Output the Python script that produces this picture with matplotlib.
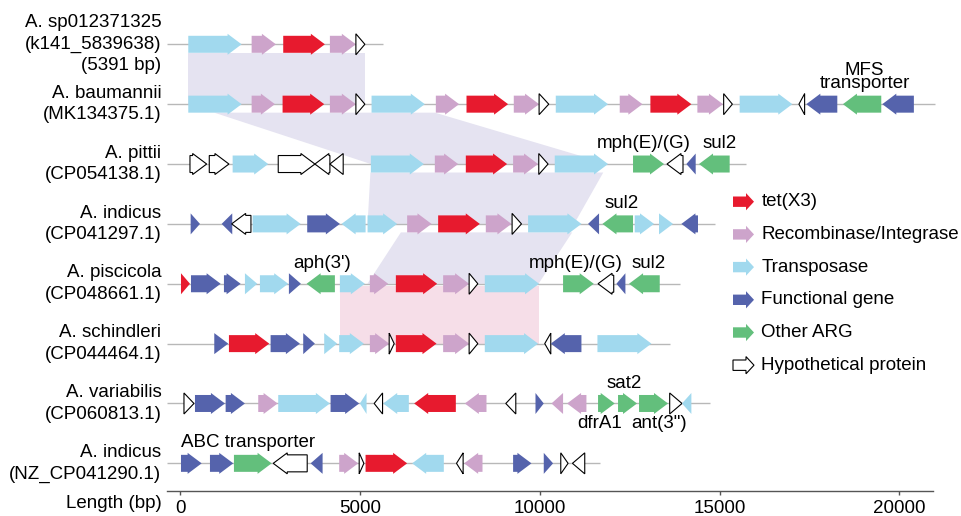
import matplotlib
matplotlib.use('Agg')
import matplotlib.pyplot as plt
from matplotlib.patches import Polygon

plt.rcParams['font.family'] = ['Liberation Sans', 'DejaVu Sans']

# ---------------- data ----------------
row_names = [
    'A. sp012371325\n(k141_5839638)\n(5391 bp)',
    'A. baumannii\n(MK134375.1)',
    'A. pittii\n(CP054138.1)',
    'A. indicus\n(CP041297.1)',
    'A. piscicola\n(CP048661.1)',
    'A. schindleri\n(CP044464.1)',
    'A. variabilis\n(CP060813.1)',
    'A. indicus\n(NZ_CP041290.1)',
]
track_ends = [5621, 20980, 15740, 14859, 13886, 13608, 14740, 11682]

# (start bp, end bp, strand, kind)
genes_sp = [(217, 1700, 1, 'tnp'), (1979, 2655, 1, 'rec'), (2858, 4017, 1, 'tet'),
            (4156, 4879, 1, 'rec'), (4879, 5129, 1, 'hyp')]
genes_baum = [(217, 1700, 1, 'tnp'), (1979, 2627, 1, 'rec'), (2840, 3998, 1, 'tet'),
              (4156, 4879, 1, 'rec'), (4879, 5129, 1, 'hyp'),
              (5315, 6797, 1, 'tnp'), (7103, 7751, 1, 'rec'), (7956, 9113, 1, 'tet'),
              (9271, 9975, 1, 'rec'), (9975, 10244, 1, 'hyp'),
              (10439, 11893, 1, 'tnp'), (12218, 12849, 1, 'rec'), (13071, 14211, 1, 'tet'),
              (14378, 15090, 1, 'rec'), (15109, 15351, 1, 'hyp'),
              (15554, 17019, 1, 'tnp'), (17203, 17361, -1, 'hyp'), (17408, 18270, -1, 'fun'),
              (18426, 19493, -1, 'arg'), (19521, 20400, -1, 'fun')]
genes_pitt = [(264, 728, 1, 'hyp'), (801, 1348, 1, 'hyp'), (1451, 2441, 1, 'tnp'),
              (2719, 3739, 1, 'hyp'), (3739, 4156, -1, 'hyp'), (4156, 4526, -1, 'hyp'),
              (5296, 6769, 1, 'tnp'), (7075, 7723, 1, 'rec'), (7937, 9085, 1, 'tet'),
              (9252, 9947, 1, 'rec'), (9966, 10225, 1, 'hyp'), (10411, 11893, 1, 'tnp'),
              (12588, 13450, 1, 'arg'), (13533, 13978, -1, 'hyp'), (14072, 14331, -1, 'fun'),
              (14423, 15276, -1, 'arg')]
genes_ind1 = [(283, 542, 1, 'fun'), (1145, 1440, -1, 'fun'), (1423, 1960, -1, 'hyp'),
              (2007, 3342, 1, 'tnp'), (3525, 4434, 1, 'fun'), (4481, 5149, -1, 'tnp'),
              (5204, 6027, 1, 'tnp'), (6305, 6983, 1, 'rec'), (7167, 8326, 1, 'tet'),
              (8493, 9207, 1, 'rec'), (9224, 9485, 1, 'hyp'), (9669, 11153, 1, 'tnp'),
              (11337, 11643, -1, 'fun'), (11737, 12588, -1, 'arg'), (12635, 13172, 1, 'tnp'),
              (13311, 13700, 1, 'tnp'), (13933, 14395, -1, 'fun')]
genes_pisc = [(14, 264, 1, 'tet'), (292, 1117, 1, 'fun'), (1209, 1673, 1, 'fun'),
              (1793, 2136, 1, 'tnp'), (2210, 2997, 1, 'tnp'), (3016, 3350, 1, 'fun'),
              (3508, 4295, -1, 'arg'), (4434, 5129, 1, 'tnp'), (5268, 5777, 1, 'rec'),
              (5991, 7139, 1, 'tet'), (7306, 8029, 1, 'rec'), (8029, 8271, 1, 'hyp'),
              (8465, 9975, 1, 'tnp'), (10642, 11495, 1, 'arg'), (11615, 12051, -1, 'hyp'),
              (12126, 12376, -1, 'fun'), (12477, 13331, -1, 'arg')]
genes_schi = [(940, 1329, 1, 'fun'), (1348, 2469, 1, 'tet'), (2507, 3322, 1, 'fun'),
              (3414, 3739, 1, 'fun'), (3998, 4359, 1, 'tnp'), (4415, 5101, 1, 'tnp'),
              (5268, 5805, 1, 'rec'), (5805, 5944, 1, 'hyp'), (5991, 7122, 1, 'tet'),
              (7306, 8029, 1, 'rec'), (8029, 8271, 1, 'hyp'), (8465, 9947, 1, 'tnp'),
              (10132, 10300, -1, 'hyp'), (10300, 11153, -1, 'fun'), (11598, 13099, 1, 'tnp')]
genes_vari = [(97, 375, 1, 'hyp'), (403, 1237, 1, 'fun'), (1256, 1793, 1, 'fun'),
              (2163, 2702, 1, 'rec'), (2719, 4156, 1, 'tnp'), (4175, 4971, 1, 'fun'),
              (4990, 5176, -1, 'tnp'), (5388, 5621, -1, 'hyp'), (5638, 6352, -1, 'tnp'),
              (6500, 7659, -1, 'tet'), (7909, 8512, -1, 'rec'), (9049, 9327, -1, 'hyp'),
              (9875, 10105, 1, 'fun'), (10319, 10642, -1, 'rec'), (10753, 11292, -1, 'rec'),
              (11615, 12079, 1, 'arg'), (12171, 12699, 1, 'arg'), (12755, 13561, 1, 'arg'),
              (13608, 13950, 1, 'hyp'), (13950, 14211, -1, 'tnp')]
genes_ind2 = [(14, 589, 1, 'fun'), (820, 1468, 1, 'fun'), (1487, 2535, 1, 'arg'),
              (2580, 3525, -1, 'hyp'), (3620, 3953, -1, 'fun'), (4415, 4943, 1, 'rec'),
              (4971, 5101, 1, 'hyp'), (5148, 6305, 1, 'tet'), (6444, 7325, -1, 'tnp'),
              (7678, 7862, -1, 'hyp'), (7890, 8401, -1, 'rec'), (9252, 9763, 1, 'fun'),
              (10105, 10364, 1, 'fun'), (10578, 10781, 1, 'hyp'), (10903, 11245, -1, 'hyp')]
tracks = [genes_sp, genes_baum, genes_pitt, genes_ind1,
          genes_pisc, genes_schi, genes_vari, genes_ind2]

# (row, centre bp, text, side)
gene_labels = [(1, 19030, 'MFS\ntransporter', 'above'),
               (2, 12885, 'mph(E)/(G)', 'above'), (2, 14998, 'sul2', 'above'),
               (3, 12265, 'sul2', 'above'),
               (4, 3953, "aph(3')", 'above'), (4, 10995, 'mph(E)/(G)', 'above'),
               (4, 13024, 'sul2', 'above'),
               (6, 12338, 'sat2', 'above'), (6, 11662, 'dfrA1', 'below'),
               (6, 13302, 'ant(3")', 'below'),
               (7, 1885, 'ABC transporter', 'above')]

# homologous blocks: (upper row, start, end, lower row, start, end, kind)
links = [(0, 217, 5129, 1, 217, 5129, 'lav'),
         (1, 940, 7080, 2, 5296, 11893, 'lav'),
         (2, 5283, 11760, 3, 5204, 10950, 'lav'),
         (3, 6130, 10895, 4, 5200, 9960, 'lav'),
         (4, 4430, 9960, 5, 4430, 9960, 'pink')]

legend_kinds = ['tet', 'rec', 'tnp', 'fun', 'arg', 'hyp']
legend_labels = ['tet(X3)', 'Recombinase/Integrase', 'Transposase',
                 'Functional gene', 'Other ARG', 'Hypothetical protein']
xticks = [0, 5000, 10000, 15000, 20000]

colors = {'tet': '#e71a2e', 'rec': '#cda4cb', 'tnp': '#a1d9ee',
          'fun': '#5563ac', 'arg': '#63bf7c', 'hyp': 'white',
          'lav': '#e5e3f1', 'pink': '#f6dee8'}

# ---------------- layout ----------------
W, H = 962, 516
fig = plt.figure(figsize=(W / 100, H / 100), dpi=100)
ax = fig.add_axes([167 / W, (H - 490.7) / H, (933 - 167) / W, 490.7 / H])
row_px = 59.86
ax.set_xlim(-375, 20932)
ax.set_ylim(7.457, -0.74)

BH = 8.5 / row_px      # body half height
HH = 10.5 / row_px     # head half height
HEAD = 390             # head length, bp
FS = 13.5
# lavender blocks start under the arrows, the pink one just under the line
top_inset = {'lav': BH, 'pink': 2 / row_px}


def arrow_pts(start, end, strand, y, head, bh, hh):
    hl = min(head, end - start)
    if strand > 0:
        b = end - hl
        return [(start, y - bh), (b, y - bh), (b, y - hh), (end, y),
                (b, y + hh), (b, y + bh), (start, y + bh)]
    b = start + hl
    return [(end, y - bh), (b, y - bh), (b, y - hh), (start, y),
            (b, y + hh), (b, y + bh), (end, y + bh)]


# shaded homology blocks
for r0, a0, a1, r1, b0, b1, kind in links:
    yt = r0 + top_inset[kind]
    ax.add_patch(Polygon([(a0, yt), (a1, yt), (b1, r1), (b0, r1)], closed=True,
                         facecolor=colors[kind], edgecolor='none', zorder=1))

for i, genes in enumerate(tracks):
    ax.plot([-375, track_ends[i]], [i, i], color='#b8b8b8', lw=1, zorder=2,
            solid_capstyle='butt', clip_on=False)
    for s, e, strand, kind in genes:
        hyp = kind == 'hyp'
        ax.add_patch(Polygon(arrow_pts(s, e, strand, i, HEAD, BH, HH), closed=True,
                             facecolor=colors[kind],
                             edgecolor='black' if hyp else 'none',
                             lw=0.8 if hyp else 0, joinstyle='miter', zorder=3))
    ax.annotate(row_names[i], xy=(0, i), xycoords=ax.get_yaxis_transform(),
                xytext=(-4, 0), textcoords='offset points', ha='right', va='center',
                fontsize=FS, linespacing=1.35, annotation_clip=False)

for r, x, text, side in gene_labels:
    if side == 'above':
        ax.annotate(text, xy=(x, r), xytext=(0, 11.5), textcoords='offset points',
                    ha='center', va='baseline', fontsize=FS, linespacing=0.68)
    else:
        ax.annotate(text, xy=(x, r), xytext=(0, -17.3), textcoords='offset points',
                    ha='center', va='baseline', fontsize=FS)

for sp in ['top', 'right', 'left']:
    ax.spines[sp].set_visible(False)
ax.spines['bottom'].set_color('#555555')
ax.spines['bottom'].set_linewidth(1)
ax.set_yticks([])
ax.set_xticks(xticks)
ax.set_xticklabels([str(t) for t in xticks])
ax.tick_params(axis='x', direction='out', length=3, width=1, color='#555555',
               pad=3.5, labelsize=FS)
ax.annotate('Length (bp)', xy=(0, 0), xycoords='axes fraction', xytext=(-4, -9.5),
            textcoords='offset points', ha='right', va='center', fontsize=FS,
            annotation_clip=False)

# legend drawn in figure pixel space
lax = fig.add_axes([0, 0, 1, 1])
lax.set_xlim(0, W)
lax.set_ylim(H, 0)
lax.axis('off')
for k, (kind, lab) in enumerate(zip(legend_kinds, legend_labels)):
    y = 201.7 + k * 32.7
    hyp = kind == 'hyp'
    lax.add_patch(Polygon(arrow_pts(733, 754, 1, y, 8, 5.2, 8.6), closed=True,
                          facecolor=colors[kind], edgecolor='black' if hyp else 'none',
                          lw=0.8 if hyp else 0))
    lax.text(761.5, y, lab, ha='left', va='center', fontsize=FS)

fig.savefig('out.png', dpi=100)
